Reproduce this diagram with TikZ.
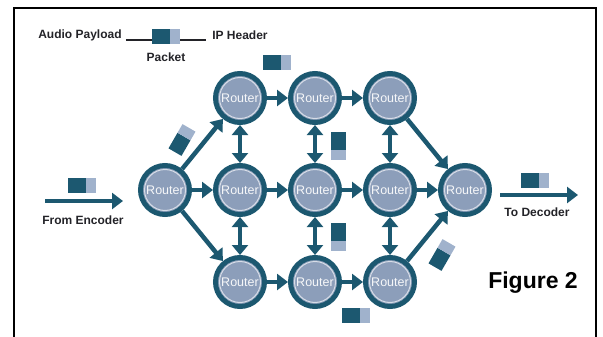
\documentclass[tikz,border=0pt]{standalone}
\usepackage{fontspec}
\setsansfont{Liberation Sans}
\usetikzlibrary{arrows.meta}

\definecolor{netteal}{RGB}{28,88,112}
\definecolor{routerfill}{RGB}{140,158,186}
\definecolor{pktlight}{RGB}{160,178,204}
\definecolor{labelgray}{RGB}{35,35,40}

\tikzset{
  router/.style={circle, fill=routerfill, draw=netteal, line width=5pt,
    minimum size=49pt, inner sep=0pt, text=white!92!routerfill,
    font=\sffamily\fontsize{12.5}{13}\selectfont,
    path picture={\draw[white!65!routerfill, line width=1pt]
      (path picture bounding box.center) circle (20.5pt);}},
  label/.style={font=\sffamily\bfseries\fontsize{12}{13}\selectfont, text=labelgray, inner sep=0pt},
  link/.style={draw=netteal, line width=4.5pt, -{Triangle[length=11pt,width=16pt]}},
  duplex/.style={draw=netteal, line width=4.5pt,
    {Triangle[length=10pt,width=16pt]}-{Triangle[length=10pt,width=16pt]}},
  packet/.pic={
    \fill[netteal] (-14,-7.5) rectangle (4,7.5);
    \fill[pktlight] (4,-7.5) rectangle (14,7.5);
  }
}

\begin{document}
\begin{tikzpicture}[x=1pt,y=-1pt]
  \useasboundingbox (0,0) rectangle (603,337);
  % frame
  \draw[black, line width=1.6pt] (14,337) -- (14,8) -- (596,8) -- (596,337);

  % legend
  \node[label] (payload) at (80,35) {Audio Payload};
  \node[label] (header) at (240,35) {IP Header};
  \node[label] (pktname) at (166,57) {Packet};
  \pic at (166,37) {packet};
  \coordinate (legl) at (152,40);
  \coordinate (legr) at (180,40);
  \draw[labelgray, line width=1.5pt] (payload.east |- legl) ++(4,0) -- (legl);
  \draw[labelgray, line width=1.5pt] (legr) -- ([xshift=-6pt]header.west |- legr);

  % routers
  \node[router] (src) at (165,190) {Router};
  \foreach \c/\x in {1/240,2/315,3/390} {
    \node[router] (top\c) at (\x,98) {Router};
    \node[router] (mid\c) at (\x,190) {Router};
    \node[router] (bot\c) at (\x,282) {Router};
  }
  \node[router] (dst) at (465,190) {Router};

  % forward links
  \draw[link] (src) -- (top1);
  \draw[link] (src) -- (mid1);
  \draw[link] (src) -- (bot1);
  \draw[link] (top1) -- (top2);
  \draw[link] (top2) -- (top3);
  \draw[link] (mid1) -- (mid2);
  \draw[link] (mid2) -- (mid3);
  \draw[link] (mid3) -- (dst);
  \draw[link] (bot1) -- (bot2);
  \draw[link] (bot2) -- (bot3);
  \draw[link] (top3) -- (dst);
  \draw[link] (bot3) -- (dst);

  % cross links
  \foreach \c in {1,2,3} {
    \draw[duplex] (top\c) -- (mid\c);
    \draw[duplex] (mid\c) -- (bot\c);
  }

  % in and out
  \coordinate (encfrom) at (45,201);
  \coordinate (encto) at (123,201);
  \draw[link] (encfrom) -- (encto);
  \node[label] (encoder) at (83,220) {From Encoder};
  \pic at (82,185) {packet};

  \coordinate (decfrom) at (500,195);
  \coordinate (decto) at (578,195);
  \draw[link] (decfrom) -- (decto);
  \node[label] (decoder) at (537,212) {To Decoder};
  \pic at (535,180) {packet};

  % packets in flight
  \pic at (277,63) {packet};
  \pic[rotate=60] at (182,140) {packet};
  \pic[rotate=-90] at (338,146) {packet};
  \pic[rotate=-90] at (338,237) {packet};
  \pic at (356,315) {packet};
  \pic[rotate=60] at (442,255) {packet};

  \node[font=\sffamily\bfseries\fontsize{23}{24}\selectfont, inner sep=0pt] (figlabel) at (533,283) {Figure 2};
\end{tikzpicture}
\end{document}
